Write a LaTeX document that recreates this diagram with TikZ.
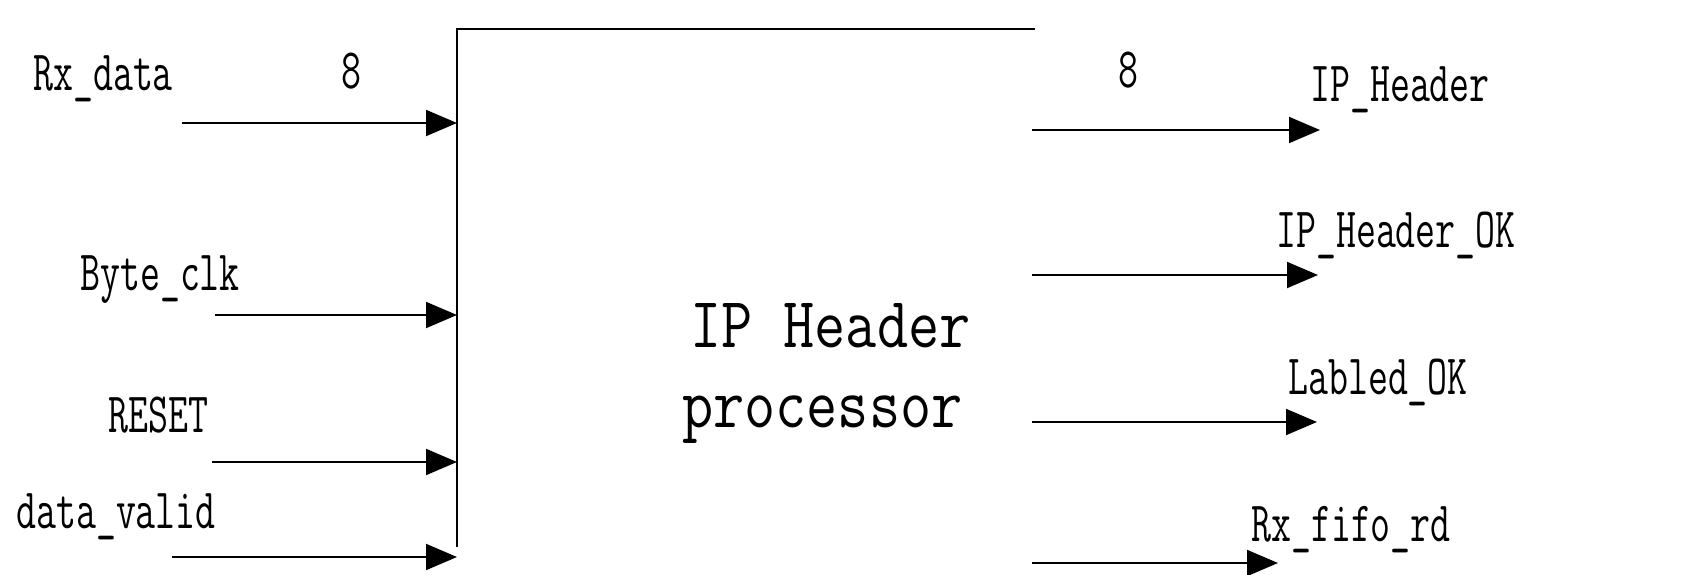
\documentclass[tikz,border=0pt]{standalone}
\usepackage{fontspec}
\usepackage{graphicx}
\usetikzlibrary{arrows.meta}
\newcommand\lbltxt[1]{\scalebox{0.68}[1]{#1}}
\newcommand\ctrtxt[1]{\scalebox{0.84}[1]{#1}}
\tikzset{
  lab/.style={font=\ttfamily\fontsize{57}{60}\selectfont, inner sep=0pt, anchor=base west},
  ctr/.style={font=\ttfamily\fontsize{72}{76}\selectfont, inner sep=0pt, anchor=base west},
  sig/.style={line width=2pt, -{Triangle[length=31pt,width=26pt]}},
  edge/.style={line width=2pt}
}
\begin{document}
\begin{tikzpicture}[x=1pt,y=-1pt]
\useasboundingbox (0,0) rectangle (1684,575);
% box corners (left and top edges visible)
\coordinate (tl) at (457,29);
\coordinate (tr) at (1035,29);
\coordinate (bl) at (457,547);
\coordinate (rx) at (1032,0);
\draw[edge] (bl) -- (tl) -- (tr);
% centre text
\node[ctr] (t1) at (690,347) {\ctrtxt{IP Header}};
\node[ctr] (t2) at (682,427) {\ctrtxt{processor}};
% inputs
\node[lab] (lrx) at (33,91) {\lbltxt{Rx\_data}};
\node[lab] (n8a) at (341,89) {\lbltxt{8}};
\node[lab] (lbc) at (80,290) {\lbltxt{Byte\_clk}};
\node[lab] (lrs) at (108,432) {\lbltxt{RESET}};
\node[lab] (ldv) at (16,528) {\lbltxt{data\_valid}};
\coordinate (i1) at (182,123);
\coordinate (i2) at (215,315);
\coordinate (i3) at (212,462);
\coordinate (i4) at (172,557);
\draw[sig] (i1) -- (tl |- i1);
\draw[sig] (i2) -- (tl |- i2);
\draw[sig] (i3) -- (tl |- i3);
\draw[sig] (i4) -- (tl |- i4);
% outputs
\node[lab] (n8b) at (1118,88) {\lbltxt{8}};
\node[lab] (lih) at (1310,102) {\lbltxt{IP\_Header}};
\node[lab] (lok) at (1276,247) {\lbltxt{IP\_Header\_OK}};
\node[lab] (llb) at (1288,394) {\lbltxt{Labled\_OK}};
\node[lab] (lff) at (1251,541) {\lbltxt{Rx\_fifo\_rd}};
\coordinate (o1) at (1320,130);
\coordinate (o2) at (1318,275);
\coordinate (o3) at (1317,422);
\coordinate (o4) at (1278,563);
\draw[sig] (rx |- o1) -- (o1);
\draw[sig] (rx |- o2) -- (o2);
\draw[sig] (rx |- o3) -- (o3);
\draw[sig] (rx |- o4) -- (o4);
\end{tikzpicture}
\end{document}
